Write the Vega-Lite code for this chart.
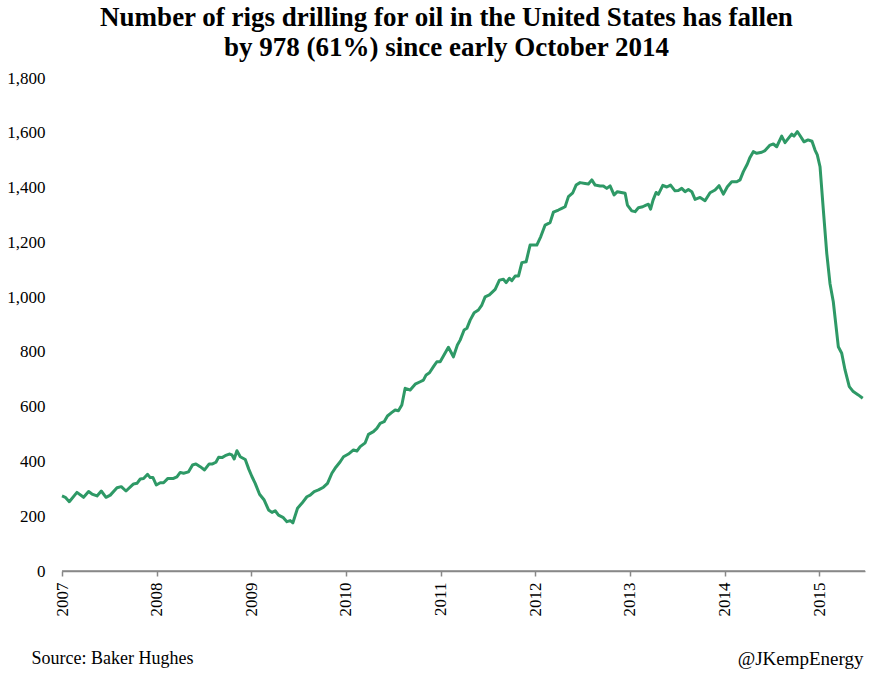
{
  "$schema": "https://vega.github.io/schema/vega-lite/v6.json",
  "width": 803,
  "height": 493,
  "autosize": {"type": "none"},
  "padding": {"left": 62, "top": 78, "right": 19, "bottom": 105},
  "background": "white",
  "config": {"view": {"stroke": null}},
  "title": {
    "text": ["Number of rigs drilling for oil in the United States has fallen", "by 978 (61%) since early October 2014"],
    "font": "Liberation Serif",
    "fontSize": 27,
    "fontWeight": "bold",
    "color": "#000000",
    "anchor": "middle",
    "offset": 7,
    "lineHeight": 30,
    "dx": -17
  },
  "layer": [
    {
      "data": {"values": [
        {"year": 2007.000, "rigs": 274}, {"year": 2007.035, "rigs": 269}, {"year": 2007.077, "rigs": 253},
        {"year": 2007.158, "rigs": 287}, {"year": 2007.228, "rigs": 269}, {"year": 2007.281, "rigs": 290},
        {"year": 2007.317, "rigs": 281}, {"year": 2007.370, "rigs": 274}, {"year": 2007.415, "rigs": 292},
        {"year": 2007.465, "rigs": 269}, {"year": 2007.510, "rigs": 277}, {"year": 2007.581, "rigs": 304},
        {"year": 2007.626, "rigs": 308}, {"year": 2007.676, "rigs": 292}, {"year": 2007.756, "rigs": 318},
        {"year": 2007.792, "rigs": 320}, {"year": 2007.827, "rigs": 336}, {"year": 2007.862, "rigs": 338},
        {"year": 2007.904, "rigs": 353}, {"year": 2007.932, "rigs": 341}, {"year": 2007.961, "rigs": 341},
        {"year": 2007.996, "rigs": 314}, {"year": 2008.038, "rigs": 322}, {"year": 2008.073, "rigs": 322},
        {"year": 2008.119, "rigs": 338}, {"year": 2008.178, "rigs": 338}, {"year": 2008.214, "rigs": 344},
        {"year": 2008.249, "rigs": 360}, {"year": 2008.284, "rigs": 357}, {"year": 2008.337, "rigs": 362},
        {"year": 2008.379, "rigs": 387}, {"year": 2008.415, "rigs": 391}, {"year": 2008.460, "rigs": 381},
        {"year": 2008.506, "rigs": 369}, {"year": 2008.555, "rigs": 391}, {"year": 2008.590, "rigs": 391},
        {"year": 2008.626, "rigs": 397}, {"year": 2008.654, "rigs": 415}, {"year": 2008.690, "rigs": 414},
        {"year": 2008.724, "rigs": 421}, {"year": 2008.767, "rigs": 427}, {"year": 2008.795, "rigs": 424},
        {"year": 2008.819, "rigs": 409}, {"year": 2008.848, "rigs": 439}, {"year": 2008.883, "rigs": 417},
        {"year": 2008.936, "rigs": 407}, {"year": 2008.973, "rigs": 372}, {"year": 2009.006, "rigs": 345},
        {"year": 2009.041, "rigs": 320}, {"year": 2009.087, "rigs": 280}, {"year": 2009.136, "rigs": 259},
        {"year": 2009.182, "rigs": 223}, {"year": 2009.218, "rigs": 214}, {"year": 2009.252, "rigs": 220},
        {"year": 2009.287, "rigs": 204}, {"year": 2009.334, "rigs": 196}, {"year": 2009.376, "rigs": 180},
        {"year": 2009.411, "rigs": 184}, {"year": 2009.439, "rigs": 176}, {"year": 2009.488, "rigs": 229},
        {"year": 2009.534, "rigs": 247}, {"year": 2009.587, "rigs": 271}, {"year": 2009.622, "rigs": 277},
        {"year": 2009.664, "rigs": 290}, {"year": 2009.710, "rigs": 296}, {"year": 2009.762, "rigs": 306},
        {"year": 2009.805, "rigs": 320}, {"year": 2009.851, "rigs": 357}, {"year": 2009.893, "rigs": 379},
        {"year": 2009.939, "rigs": 399}, {"year": 2009.974, "rigs": 417}, {"year": 2010.026, "rigs": 427},
        {"year": 2010.079, "rigs": 442}, {"year": 2010.115, "rigs": 438}, {"year": 2010.150, "rigs": 454},
        {"year": 2010.203, "rigs": 468}, {"year": 2010.238, "rigs": 499}, {"year": 2010.290, "rigs": 509},
        {"year": 2010.326, "rigs": 521}, {"year": 2010.361, "rigs": 539}, {"year": 2010.403, "rigs": 545},
        {"year": 2010.438, "rigs": 566}, {"year": 2010.485, "rigs": 579}, {"year": 2010.520, "rigs": 588},
        {"year": 2010.554, "rigs": 585}, {"year": 2010.590, "rigs": 606}, {"year": 2010.625, "rigs": 667},
        {"year": 2010.678, "rigs": 661}, {"year": 2010.731, "rigs": 682}, {"year": 2010.784, "rigs": 691},
        {"year": 2010.818, "rigs": 697}, {"year": 2010.847, "rigs": 716}, {"year": 2010.882, "rigs": 724},
        {"year": 2010.924, "rigs": 746}, {"year": 2010.960, "rigs": 764}, {"year": 2010.995, "rigs": 764},
        {"year": 2011.082, "rigs": 817}, {"year": 2011.135, "rigs": 782}, {"year": 2011.177, "rigs": 825},
        {"year": 2011.206, "rigs": 843}, {"year": 2011.248, "rigs": 880}, {"year": 2011.277, "rigs": 886},
        {"year": 2011.312, "rigs": 916}, {"year": 2011.354, "rigs": 943}, {"year": 2011.399, "rigs": 953},
        {"year": 2011.435, "rigs": 971}, {"year": 2011.470, "rigs": 1001}, {"year": 2011.515, "rigs": 1008},
        {"year": 2011.576, "rigs": 1028}, {"year": 2011.621, "rigs": 1062}, {"year": 2011.663, "rigs": 1065},
        {"year": 2011.692, "rigs": 1053}, {"year": 2011.727, "rigs": 1069}, {"year": 2011.752, "rigs": 1060},
        {"year": 2011.787, "rigs": 1077}, {"year": 2011.822, "rigs": 1077}, {"year": 2011.858, "rigs": 1126},
        {"year": 2011.903, "rigs": 1129}, {"year": 2011.945, "rigs": 1190}, {"year": 2012.016, "rigs": 1190},
        {"year": 2012.058, "rigs": 1221}, {"year": 2012.104, "rigs": 1263}, {"year": 2012.156, "rigs": 1272},
        {"year": 2012.191, "rigs": 1310}, {"year": 2012.244, "rigs": 1318}, {"year": 2012.280, "rigs": 1324},
        {"year": 2012.315, "rigs": 1330}, {"year": 2012.350, "rigs": 1367}, {"year": 2012.396, "rigs": 1381},
        {"year": 2012.431, "rigs": 1409}, {"year": 2012.473, "rigs": 1418}, {"year": 2012.526, "rigs": 1415},
        {"year": 2012.561, "rigs": 1413}, {"year": 2012.597, "rigs": 1428}, {"year": 2012.632, "rigs": 1409},
        {"year": 2012.684, "rigs": 1406}, {"year": 2012.719, "rigs": 1406}, {"year": 2012.755, "rigs": 1397},
        {"year": 2012.790, "rigs": 1406}, {"year": 2012.832, "rigs": 1373}, {"year": 2012.867, "rigs": 1385},
        {"year": 2012.949, "rigs": 1379}, {"year": 2012.973, "rigs": 1336}, {"year": 2013.019, "rigs": 1315},
        {"year": 2013.054, "rigs": 1312}, {"year": 2013.089, "rigs": 1326}, {"year": 2013.135, "rigs": 1330},
        {"year": 2013.170, "rigs": 1336}, {"year": 2013.195, "rigs": 1339}, {"year": 2013.218, "rigs": 1321},
        {"year": 2013.244, "rigs": 1354}, {"year": 2013.276, "rigs": 1382}, {"year": 2013.300, "rigs": 1375},
        {"year": 2013.347, "rigs": 1408}, {"year": 2013.389, "rigs": 1402}, {"year": 2013.429, "rigs": 1409},
        {"year": 2013.476, "rigs": 1388}, {"year": 2013.511, "rigs": 1389}, {"year": 2013.547, "rigs": 1397},
        {"year": 2013.582, "rigs": 1385}, {"year": 2013.617, "rigs": 1393}, {"year": 2013.653, "rigs": 1385},
        {"year": 2013.688, "rigs": 1357}, {"year": 2013.741, "rigs": 1364}, {"year": 2013.793, "rigs": 1352},
        {"year": 2013.846, "rigs": 1381}, {"year": 2013.899, "rigs": 1391}, {"year": 2013.941, "rigs": 1407},
        {"year": 2013.987, "rigs": 1376}, {"year": 2014.029, "rigs": 1403}, {"year": 2014.075, "rigs": 1421},
        {"year": 2014.128, "rigs": 1421}, {"year": 2014.163, "rigs": 1428}, {"year": 2014.198, "rigs": 1458},
        {"year": 2014.240, "rigs": 1486}, {"year": 2014.268, "rigs": 1510}, {"year": 2014.303, "rigs": 1531},
        {"year": 2014.339, "rigs": 1525}, {"year": 2014.392, "rigs": 1529}, {"year": 2014.427, "rigs": 1535},
        {"year": 2014.480, "rigs": 1555}, {"year": 2014.515, "rigs": 1559}, {"year": 2014.550, "rigs": 1549},
        {"year": 2014.603, "rigs": 1588}, {"year": 2014.638, "rigs": 1564}, {"year": 2014.709, "rigs": 1595},
        {"year": 2014.733, "rigs": 1588}, {"year": 2014.768, "rigs": 1604}, {"year": 2014.796, "rigs": 1590},
        {"year": 2014.839, "rigs": 1567}, {"year": 2014.881, "rigs": 1574}, {"year": 2014.923, "rigs": 1569},
        {"year": 2014.955, "rigs": 1537}, {"year": 2014.979, "rigs": 1519}, {"year": 2015.008, "rigs": 1476},
        {"year": 2015.043, "rigs": 1318}, {"year": 2015.079, "rigs": 1160}, {"year": 2015.113, "rigs": 1050},
        {"year": 2015.148, "rigs": 983}, {"year": 2015.201, "rigs": 819}, {"year": 2015.237, "rigs": 795},
        {"year": 2015.272, "rigs": 734}, {"year": 2015.317, "rigs": 673}, {"year": 2015.359, "rigs": 655},
        {"year": 2015.412, "rigs": 643}, {"year": 2015.459, "rigs": 631}
      ]},
      "mark": {"type": "line", "color": "#2e9966", "strokeWidth": 3, "strokeJoin": "round"},
      "encoding": {
        "x": {
          "field": "year",
          "type": "quantitative",
          "scale": {"domain": [2007, 2015.483], "nice": false, "zero": false},
          "axis": {
            "values": [2007, 2008, 2009, 2010, 2011, 2012, 2013, 2014, 2015],
            "format": "d",
            "labelAngle": -90,
            "labelAlign": "right",
            "labelBaseline": "middle",
            "labelFont": "Liberation Serif",
            "labelFontSize": 17,
            "labelColor": "#000000",
            "labelPadding": 6,
            "tickSize": 5,
            "tickColor": "#888888",
            "domainColor": "#888888",
            "domainWidth": 1.5,
            "tickWidth": 1.5,
            "grid": false,
            "title": "Source: Baker Hughes",
            "titleFont": "Liberation Serif",
            "titleFontSize": 18,
            "titleFontWeight": "normal",
            "titleColor": "#000000",
            "titleAlign": "left",
            "titleBaseline": "middle",
            "titleX": -31,
            "titleY": 87
          }
        },
        "y": {
          "field": "rigs",
          "type": "quantitative",
          "scale": {"domain": [0, 1800], "nice": false},
          "axis": {
            "values": [0, 200, 400, 600, 800, 1000, 1200, 1400, 1600, 1800],
            "format": ",.0f",
            "domain": false,
            "ticks": false,
            "grid": false,
            "labelFont": "Liberation Serif",
            "labelFontSize": 17,
            "labelColor": "#000000",
            "labelPadding": 17,
            "title": null
          }
        }
      }
    },
    {
      "data": {"values": [{"credit": "@JKempEnergy"}]},
      "mark": {"type": "rule", "color": "#888888", "strokeWidth": 1.5},
      "encoding": {
        "y": {
          "datum": 0,
          "type": "quantitative",
          "scale": {"domain": [0, 1800], "nice": false},
          "axis": {
            "orient": "right",
            "domain": false,
            "ticks": false,
            "labels": false,
            "grid": false,
            "title": "@JKempEnergy",
            "titleFont": "Liberation Serif",
            "titleFontSize": 19,
            "titleFontWeight": "normal",
            "titleColor": "#000000",
            "titleAngle": 0,
            "titleAlign": "right",
            "titleBaseline": "middle",
            "titleX": -2,
            "titleY": 580
          }
        }
      }
    }
  ],
  "resolve": {"scale": {"y": "independent"}, "axis": {"y": "independent"}}
}
